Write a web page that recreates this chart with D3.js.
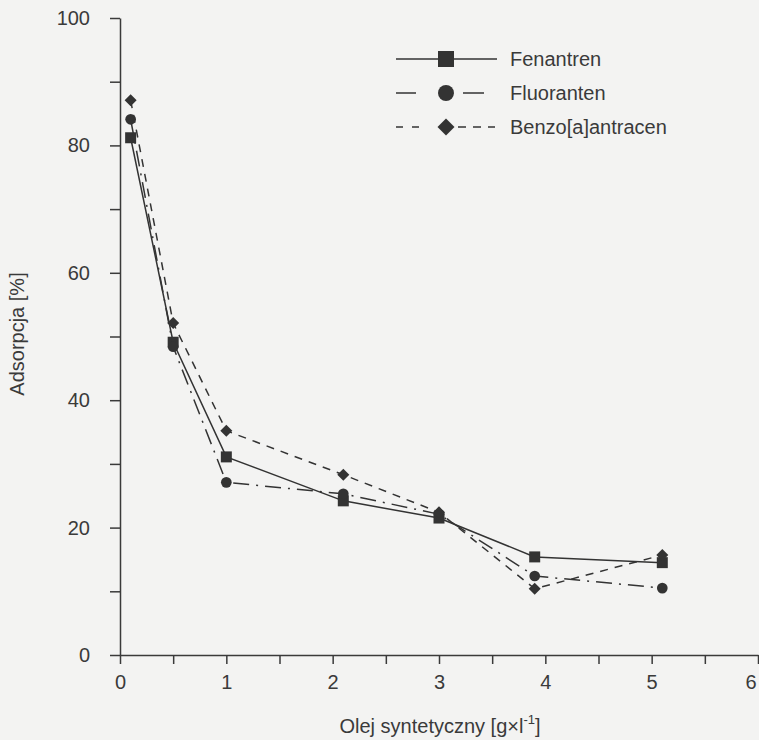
<!DOCTYPE html>
<html>
<head>
<meta charset="utf-8">
<script src="https://cdn.jsdelivr.net/npm/d3@7"></script>
<style>
  body { margin: 0; background: #f3f3f2; }
  svg { display: block; }
  text { font-family: "Liberation Sans", Arial, sans-serif; fill: #3a3a3a; }
  .axis path, .axis line { stroke: #3a3a3a; stroke-width: 1.5; }
  .axis text { font-size: 20px; fill: #3a3a3a; }
</style>
</head>
<body>
<div id="container"></div>
<script>

var oil = [0.1, 0.5, 1, 2.1, 3, 3.9, 5.1];   //  Olej syntetyczny [g/l]

var fenantren = [81.2, 49.1, 31.1, 24.2, 21.5, 15.4, 14.5];
var fluoranten = [84.1, 48.4, 27.1, 25.3, 22.1, 12.4, 10.5];
var benzo = [87.1, 52.1, 35.2, 28.3, 22.4, 10.4, 15.7];

var seriesNames = ["Fenantren", "Fluoranten", "Benzo[a]antracen"];

var xTicks = [0, 0.5, 1, 1.5, 2, 2.5, 3, 3.5, 4, 4.5, 5, 5.5, 6];
var yTicks = [0, 10, 20, 30, 40, 50, 60, 70, 80, 90, 100];

var width = 759, height = 740;
var margin = {top: 18, left: 120};
var plotW = 638, plotH = 637;

var lineColor = "#333333";

//  rot = 45 turns the square into the diamond marker
var series = [
    {name: seriesNames[0], values: fenantren, dash: null, symbol: d3.symbolSquare, size: 121, legSize: 256, rot: 0,
        legDash: [[0, 101]]},
    {name: seriesNames[1], values: fluoranten, dash: "16,7,2,7", symbol: d3.symbolCircle, size: 90, legSize: 200, rot: 0,
        legDash: [[0, 20], [67, 88]]},
    {name: seriesNames[2], values: benzo, dash: "8,7", symbol: d3.symbolSquare, size: 72, legSize: 144, rot: 45,
        legDash: [[0, 7], [16, 23], [62, 70], [77, 85], [92, 99]]}
];

var x = d3.scaleLinear().domain([0, 6]).range([0, plotW]);
var y = d3.scaleLinear().domain([0, 100]).range([plotH, 0]);

var svg = d3.select("#container")
    .append("svg")
    .attr("width", width)
    .attr("height", height);

var g = svg.append("g")
    .attr("transform", "translate(" + margin.left + "," + margin.top + ")");

//  axes

g.append("g")
    .attr("class", "axis")
    .call(d3.axisLeft(y)
        .tickValues(yTicks)
        .tickSize(10)
        .tickPadding(20)
        .tickSizeOuter(0)
        .tickFormat(function(d){ return d % 20 == 0 ? d : ""; }));

var xAxis = g.append("g")
    .attr("class", "axis")
    .attr("transform", "translate(0," + plotH + ")")
    .call(d3.axisBottom(x)
        .tickValues(xTicks)
        .tickSize(9)
        .tickPadding(11)
        .tickSizeOuter(0)
        .tickFormat(function(d){ return d % 1 == 0 ? d : ""; }));

//  last label sits on the page edge, nudge it in
xAxis.selectAll(".tick text")
    .filter(function(d){ return d == 6; })
    .attr("text-anchor", "end")
    .attr("x", -2);

//  lines

var line = d3.line()
    .x(function(d, i){ return x(oil[i]); })
    .y(function(d){ return y(d); });

series.forEach(function(s, k){

    g.append("path")
        .datum(s.values)
        .attr("d", line)
        .attr("fill", "none")
        .attr("stroke", lineColor)
        .attr("stroke-width", 1.5)
        .attr("stroke-dasharray", s.dash);

    g.selectAll(".pt" + k)
        .data(s.values)
        .enter()
        .append("path")
        .attr("class", "pt" + k)
        .attr("d", d3.symbol().type(s.symbol).size(s.size))
        .attr("transform", function(d, i){
            return "translate(" + x(oil[i]) + "," + y(d) + ") rotate(" + s.rot + ")";
        })
        .attr("fill", lineColor);
});

//  legend

var legend = svg.append("g")
    .attr("transform", "translate(396,59)");

series.forEach(function(s, i){

    var row = legend.append("g")
        .attr("transform", "translate(0," + (i * 34) + ")");

    row.selectAll("line")
        .data(s.legDash)
        .enter()
        .append("line")
        .attr("x1", function(d){ return d[0]; })
        .attr("x2", function(d){ return d[1]; })
        .attr("stroke", lineColor)
        .attr("stroke-width", 1.5);

    row.append("path")
        .attr("d", d3.symbol().type(s.symbol).size(s.legSize))
        .attr("transform", "translate(50,0) rotate(" + s.rot + ")")
        .attr("fill", lineColor);

    row.append("text")
        .attr("x", 114)
        .attr("dy", "0.35em")
        .attr("font-size", 20)
        .text(s.name);
});

//  axis titles

var xTitle = svg.append("text")
    .attr("x", 440)
    .attr("y", 733)
    .attr("text-anchor", "middle")
    .attr("font-size", 20);

xTitle.append("tspan").text("Olej syntetyczny [g×l");
xTitle.append("tspan").attr("dy", -9).attr("font-size", 13).text("-1");
xTitle.append("tspan").attr("dy", 9).text("]");

svg.append("text")
    .attr("transform", "translate(24,334) rotate(-90)")
    .attr("text-anchor", "middle")
    .attr("font-size", 20)
    .text("Adsorpcja [%]");

</script>
</body>
</html>
